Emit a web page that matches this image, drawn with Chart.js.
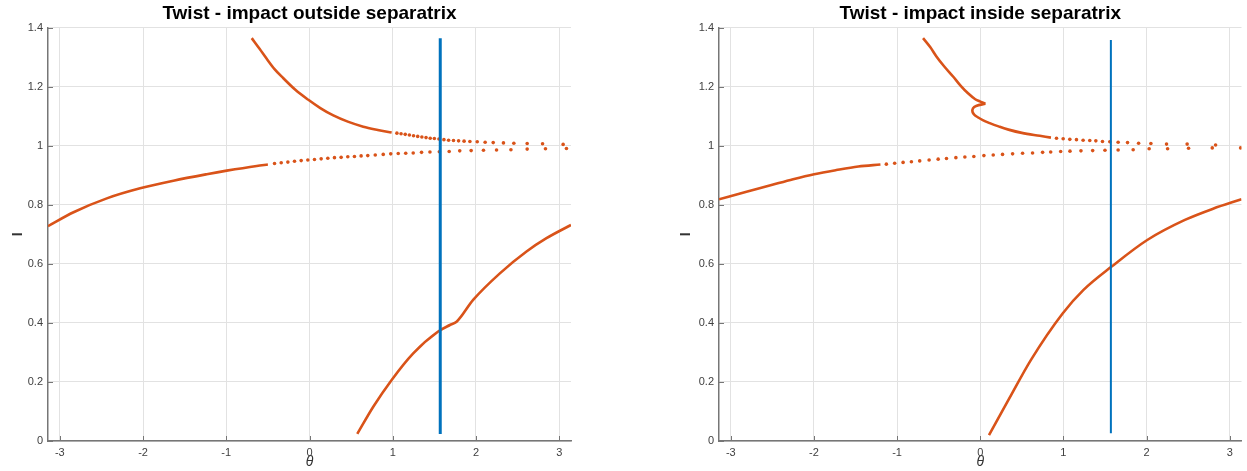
<!DOCTYPE html>
<html>
<head>
<meta charset="utf-8">
<script src="https://cdn.jsdelivr.net/npm/chart.js@4"></script>
<style>
  html, body { margin: 0; padding: 0; background: #fff; }
  body { width: 1247px; height: 471px; position: relative; overflow: hidden; }
  canvas { position: absolute; top: 0; }
  #outside { left: 0; }
  #inside { left: 671px; }
</style>
</head>
<body>
<canvas id="outside" width="600" height="471"></canvas>
<canvas id="inside" width="576" height="471"></canvas>
<script>
// axis ticks
var xTicks = [-3, -2, -1, 0, 1, 2, 3];
var yTicks = [0, 0.2, 0.4, 0.6, 0.8, 1, 1.2, 1.4];

// impact line at theta = pi/2
var impactTheta = [1.5708, 1.5708];
var outImpactI = [0.024, 1.365];
var inImpactI = [0.026, 1.359];

// --- impact outside separatrix ---
var outUpperTheta = [-0.694, -0.6, -0.514, -0.42, -0.314, -0.17, -0.014, 0.13, 0.286, 0.46, 0.646, 0.82, 0.987];
var outUpperI = [1.365, 1.329, 1.295, 1.260, 1.229, 1.190, 1.156, 1.128, 1.103, 1.082, 1.065, 1.054, 1.045];
var outUpperDotTheta = [1.05, 1.10, 1.15, 1.20, 1.25, 1.30, 1.35, 1.40, 1.45, 1.50, 1.555, 1.615, 1.671, 1.73, 1.791, 1.857, 1.927, 2.015, 2.11, 2.207, 2.33, 2.455, 2.615, 2.80, 3.047];
var outUpperDotI = [1.043, 1.041, 1.039, 1.037, 1.034, 1.032, 1.030, 1.028, 1.026, 1.025, 1.023, 1.021, 1.019, 1.018, 1.017, 1.016, 1.015, 1.014, 1.012, 1.011, 1.010, 1.009, 1.008, 1.007, 1.005];
var outLowerTheta = [-3.1416, -2.835, -2.435, -2.035, -1.635, -1.234, -0.994, -0.634, -0.5];
var outLowerI = [0.728, 0.775, 0.822, 0.856, 0.882, 0.904, 0.916, 0.932, 0.937];
var outLowerDotTheta = [-0.42, -0.34, -0.26, -0.18, -0.10, -0.02, 0.06, 0.14, 0.22, 0.30, 0.38, 0.46, 0.54, 0.62, 0.70, 0.79, 0.886, 0.976, 1.066, 1.156, 1.246, 1.346, 1.447, 1.56, 1.678, 1.805, 1.942, 2.09, 2.247, 2.42, 2.615, 2.835, 3.087];
var outLowerDotI = [0.940, 0.943, 0.945, 0.948, 0.950, 0.952, 0.954, 0.956, 0.958, 0.960, 0.961, 0.963, 0.964, 0.966, 0.967, 0.969, 0.971, 0.973, 0.974, 0.975, 0.976, 0.978, 0.979, 0.980, 0.981, 0.983, 0.984, 0.985, 0.986, 0.987, 0.989, 0.990, 0.991];
var outBottomTheta = [0.574, 0.766, 0.987, 1.246, 1.546, 1.687, 1.767, 1.966, 2.287, 2.607, 2.847, 3.1416];
var outBottomI = [0.024, 0.116, 0.207, 0.297, 0.371, 0.393, 0.404, 0.478, 0.568, 0.642, 0.687, 0.732];

// --- impact inside separatrix ---
// upper branch: down to the cusp, then the fold back to the right
var inUpperTheta = [-0.688, -0.6, -0.527, -0.43, -0.327, -0.24, -0.147, -0.06, 0.0, 0.062];
var inUpperI = [1.365, 1.334, 1.303, 1.268, 1.235, 1.205, 1.178, 1.158, 1.150, 1.143];
var inFoldTheta = [0.062, -0.05, -0.088, -0.093, -0.07, -0.03, 0.03, 0.114, 0.22, 0.34, 0.5, 0.716, 0.85];
var inFoldI = [1.143, 1.135, 1.127, 1.115, 1.105, 1.097, 1.087, 1.077, 1.066, 1.055, 1.044, 1.034, 1.028];
var inUpperDotTheta = [0.917, 0.997, 1.077, 1.157, 1.237, 1.317, 1.39, 1.47, 1.558, 1.658, 1.771, 1.904, 2.052, 2.24, 2.488, 2.83];
var inUpperDotI = [1.026, 1.024, 1.022, 1.021, 1.019, 1.018, 1.017, 1.015, 1.014, 1.012, 1.011, 1.009, 1.008, 1.006, 1.006, 1.003];
var inLowerTheta = [-3.1416, -2.8, -2.5, -2.25, -1.997, -1.73, -1.466, -1.2];
var inLowerI = [0.819, 0.845, 0.868, 0.887, 0.904, 0.918, 0.930, 0.937];
var inLowerDotTheta = [-1.129, -1.029, -0.928, -0.828, -0.728, -0.615, -0.506, -0.406, -0.293, -0.185, -0.077, 0.044, 0.156, 0.268, 0.389, 0.509, 0.629, 0.75, 0.847, 0.967, 1.079, 1.211, 1.352, 1.5, 1.658, 1.839, 2.031, 2.253, 2.505, 2.79, 3.131];
var inLowerDotI = [0.938, 0.941, 0.944, 0.946, 0.949, 0.952, 0.955, 0.957, 0.960, 0.962, 0.964, 0.967, 0.969, 0.971, 0.973, 0.975, 0.976, 0.978, 0.979, 0.981, 0.982, 0.983, 0.984, 0.985, 0.986, 0.987, 0.990, 0.990, 0.992, 0.993, 0.993];
var inBottomTheta = [0.105, 0.339, 0.61, 0.993, 1.242, 1.58, 2.008, 2.461, 2.8, 3.1416];
var inBottomI = [0.020, 0.139, 0.275, 0.433, 0.512, 0.591, 0.681, 0.749, 0.787, 0.819];

var ORANGE = '#D95319';
var BLUE = '#0072BD';
var AXIS = '#767676';
var GRID = '#e2e2e2';
var TICK = '#404040';
var FONT = '"Liberation Sans", Arial, Helvetica, sans-serif';

function pts(xs, ys) {
  return xs.map(function(x, i) { return { x: x, y: ys[i] }; });
}

// smooth curve through points that run left to right
function curve(xs, ys) {
  return { data: pts(xs, ys), showLine: true, pointRadius: 0, borderColor: ORANGE, borderWidth: 2.6,
           cubicInterpolationMode: 'monotone' };
}

// curve that turns back on itself
function fold(xs, ys) {
  return { data: pts(xs, ys), showLine: true, pointRadius: 0, borderColor: ORANGE, borderWidth: 2.6,
           tension: 0.35, borderJoinStyle: 'round' };
}

function dots(xs, ys) {
  return { data: pts(xs, ys), showLine: false, pointRadius: 1.8, pointBorderWidth: 0, pointBackgroundColor: ORANGE };
}

function impact(ys, width) {
  return { data: pts(impactTheta, ys), showLine: true, pointRadius: 0, borderColor: BLUE, borderWidth: width };
}

// MATLAB style ticks pointing into the plot
var inwardTicks = {
  id: 'inwardTicks',
  afterDraw: function(chart) {
    var ctx = chart.ctx, a = chart.chartArea;
    var xs = chart.scales.x, ys = chart.scales.y;
    ctx.save();
    ctx.strokeStyle = AXIS;
    ctx.lineWidth = 1;
    ctx.beginPath();
    xTicks.forEach(function(v) {
      var p = Math.round(xs.getPixelForValue(v)) + 0.5;
      ctx.moveTo(p, a.bottom); ctx.lineTo(p, a.bottom - 5);
    });
    yTicks.forEach(function(v) {
      var p = Math.round(ys.getPixelForValue(v)) + 0.5;
      ctx.moveTo(a.left, p); ctx.lineTo(a.left + 5, p);
    });
    ctx.stroke();
    ctx.restore();
  }
};

function makeChart(id, title, datasets, padRight, yTitlePad) {
  return new Chart(document.getElementById(id), {
    type: 'scatter',
    data: { datasets: datasets },
    options: {
      responsive: false,
      animation: false,
      events: [],
      layout: { padding: { left: 0, right: padRight, top: 0, bottom: 0 } },
      plugins: {
        legend: { display: false },
        tooltip: { enabled: false },
        title: {
          display: true, text: title, fullSize: false, color: '#000',
          font: { family: FONT, size: 19, weight: 'bold' },
          padding: { top: 2, bottom: 3 }
        }
      },
      scales: {
        x: {
          type: 'linear', min: -Math.PI, max: Math.PI,
          afterBuildTicks: function(s) { s.ticks = xTicks.map(function(v) { return { value: v }; }); },
          afterFit: function(s) { s.height = 30; },
          grid: { color: GRID, drawTicks: false },
          border: { color: AXIS, width: 1.5 },
          ticks: { color: TICK, font: { family: FONT, size: 11 }, padding: 5, maxRotation: 0,
                   callback: function(v) { return String(v); } },
          title: { display: true, text: 'θ', color: '#333', font: { family: FONT, size: 14, style: 'italic' },
                   padding: { top: 0, bottom: 0 } }
        },
        y: {
          type: 'linear', min: 0, max: 1.4,
          afterBuildTicks: function(s) { s.ticks = yTicks.map(function(v) { return { value: v }; }); },
          afterFit: function(s) { s.width = 48; },
          grid: { color: GRID, drawTicks: false },
          border: { color: AXIS, width: 1.5 },
          ticks: { color: TICK, font: { family: FONT, size: 11 }, padding: 5,
                   callback: function(v) { return String(v); } },
          title: { display: true, text: 'I', color: '#333', font: { family: FONT, size: 14, weight: 'bold' },
                   padding: { top: yTitlePad, bottom: 0 } }
        }
      }
    },
    plugins: [inwardTicks]
  });
}

makeChart('outside', 'Twist - impact outside separatrix', [
  impact(outImpactI, 3),
  curve(outUpperTheta, outUpperI),
  dots(outUpperDotTheta, outUpperDotI),
  curve(outLowerTheta, outLowerI),
  dots(outLowerDotTheta, outLowerDotI),
  curve(outBottomTheta, outBottomI)
], 29, 10);

makeChart('inside', 'Twist - impact inside separatrix', [
  impact(inImpactI, 2),
  curve(inUpperTheta, inUpperI),
  fold(inFoldTheta, inFoldI),
  dots(inUpperDotTheta, inUpperDotI),
  curve(inLowerTheta, inLowerI),
  dots(inLowerDotTheta, inLowerDotI),
  curve(inBottomTheta, inBottomI)
], 5.5, 7);
</script>
</body>
</html>
